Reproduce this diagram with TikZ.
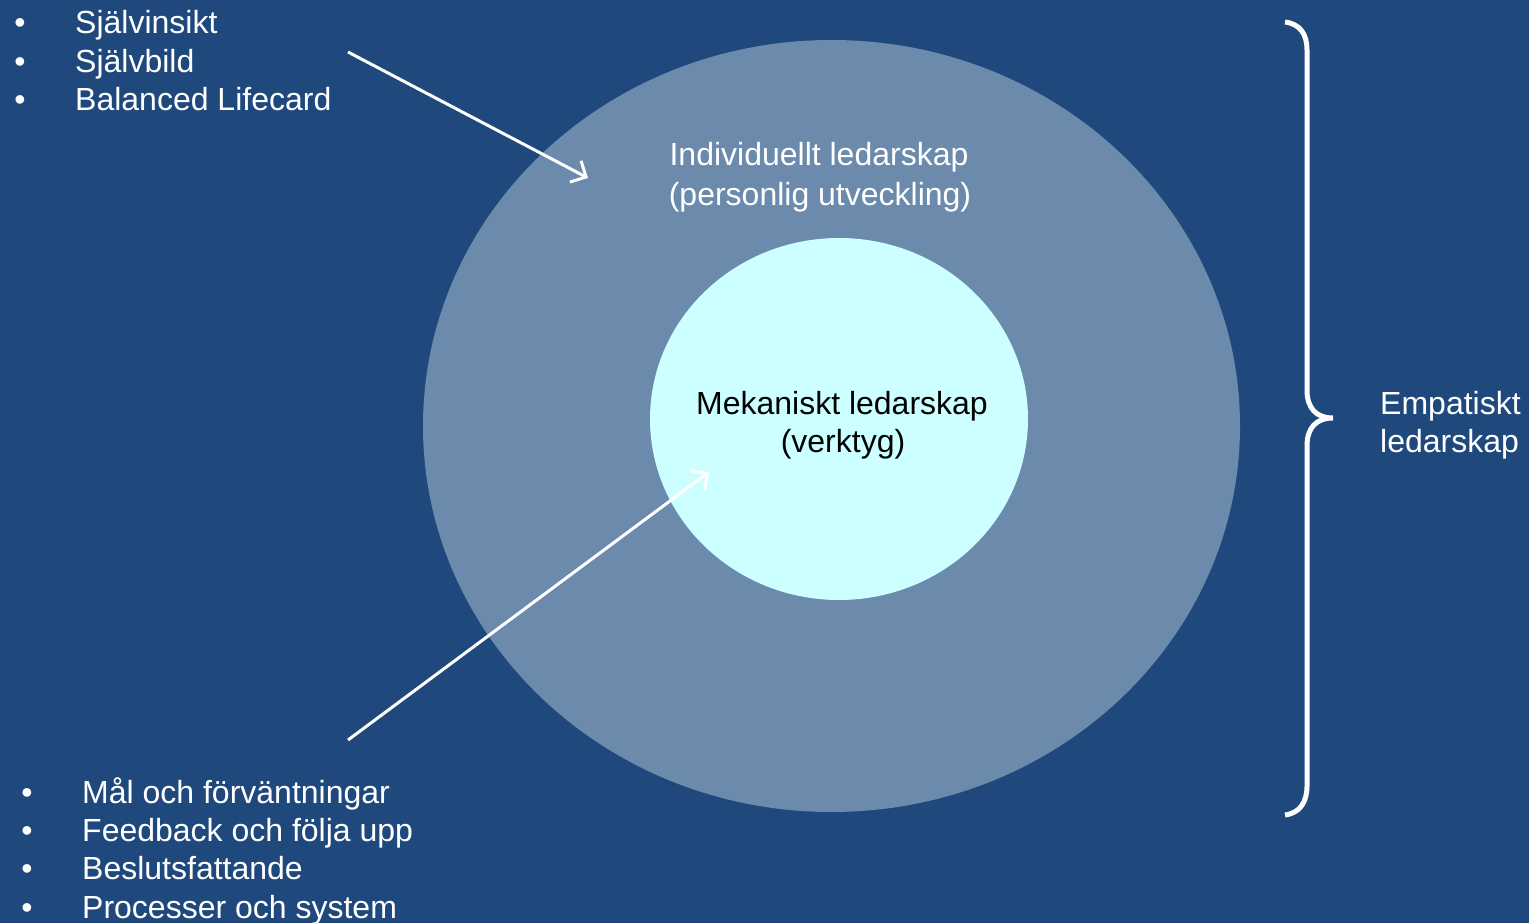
\documentclass[tikz,border=0pt]{standalone}
\usepackage{fontspec}
\setmainfont{Liberation Sans}
\usetikzlibrary{shapes.geometric,arrows.meta}
\definecolor{bgblue}{HTML}{1F497D}
\definecolor{outerblue}{HTML}{6C8AAC}
\definecolor{innercyan}{HTML}{CCFFFF}
\begin{document}
\begin{tikzpicture}[x=1pt,y=-1pt,
  lbl/.style={inner sep=0pt,anchor=base west,text=white,font=\fontsize{32}{38}\selectfont},
  bul/.style={inner sep=0pt,anchor=base,text=white,font=\fontsize{32}{38}\selectfont},
  ctr/.style={inner sep=0pt,anchor=base,font=\fontsize{32}{38}\selectfont},
  wArrow/.style={draw=white,line width=3pt,-{Straight Barb[length=12pt,width=24pt,line width=3pt]}}]
\fill[bgblue] (0,0) rectangle (1529,923);
\useasboundingbox (0,0) rectangle (1529,923);
\node[ellipse,fill=outerblue,draw=none,minimum width=817pt,minimum height=772pt,inner sep=0pt] (outer) at (831.5,426) {};
\node[ellipse,fill=innercyan,draw=none,minimum width=378pt,minimum height=362pt,inner sep=0pt] (inner) at (839,419) {};
% top list
\node[bul] (b1) at (20,34) {•};
\node[bul] (b2) at (20,73) {•};
\node[bul] (b3) at (20,111) {•};
\node[lbl] (t1) at (75,34) {Självinsikt};
\node[lbl] (t2) at (75,73) {Självbild};
\node[lbl] (t3) at (75,111) {Balanced Lifecard};
% bottom list
\node[bul] (b4) at (27,803) {•};
\node[bul] (b5) at (27,841) {•};
\node[bul] (b6) at (27,879) {•};
\node[bul] (b7) at (27,918) {•};
\node[lbl] (t4) at (82,803) {Mål och förväntningar};
\node[lbl] (t5) at (82,841) {Feedback och följa upp};
\node[lbl] (t6) at (82,879) {Beslutsfattande};
\node[lbl] (t7) at (82,918) {Processer och system};
% circle texts
\node[ctr,text=white] (ind1) at (819,166) {Individuellt ledarskap};
\node[ctr,text=white] (ind2) at (820,205) {(personlig utveckling)};
\node[ctr,text=black] (mek1) at (842,414) {Mekaniskt ledarskap};
\node[ctr,text=black] (mek2) at (843,452) {(verktyg)};
\node[lbl] (emp1) at (1380,414) {Empatiskt};
\node[lbl] (emp2) at (1380,452) {ledarskap};
% arrows
\coordinate (a1s) at (348,52);
\coordinate (a1e) at (588,178);
\coordinate (a2s) at (348,740);
\coordinate (a2e) at (709,472);
\draw[wArrow] (a1s) -- (a1e);
\draw[wArrow] (a2s) -- (a2e);
% brace
\draw[white,line width=5pt] (1285,22) .. controls (1300,24) and (1307,34) .. (1307,50)
  -- (1307,390) .. controls (1307,408) and (1316,418) .. (1333,418)
  .. controls (1316,418) and (1307,428) .. (1307,446)
  -- (1307,786) .. controls (1307,802) and (1300,813) .. (1285,815);
\end{tikzpicture}
\end{document}
